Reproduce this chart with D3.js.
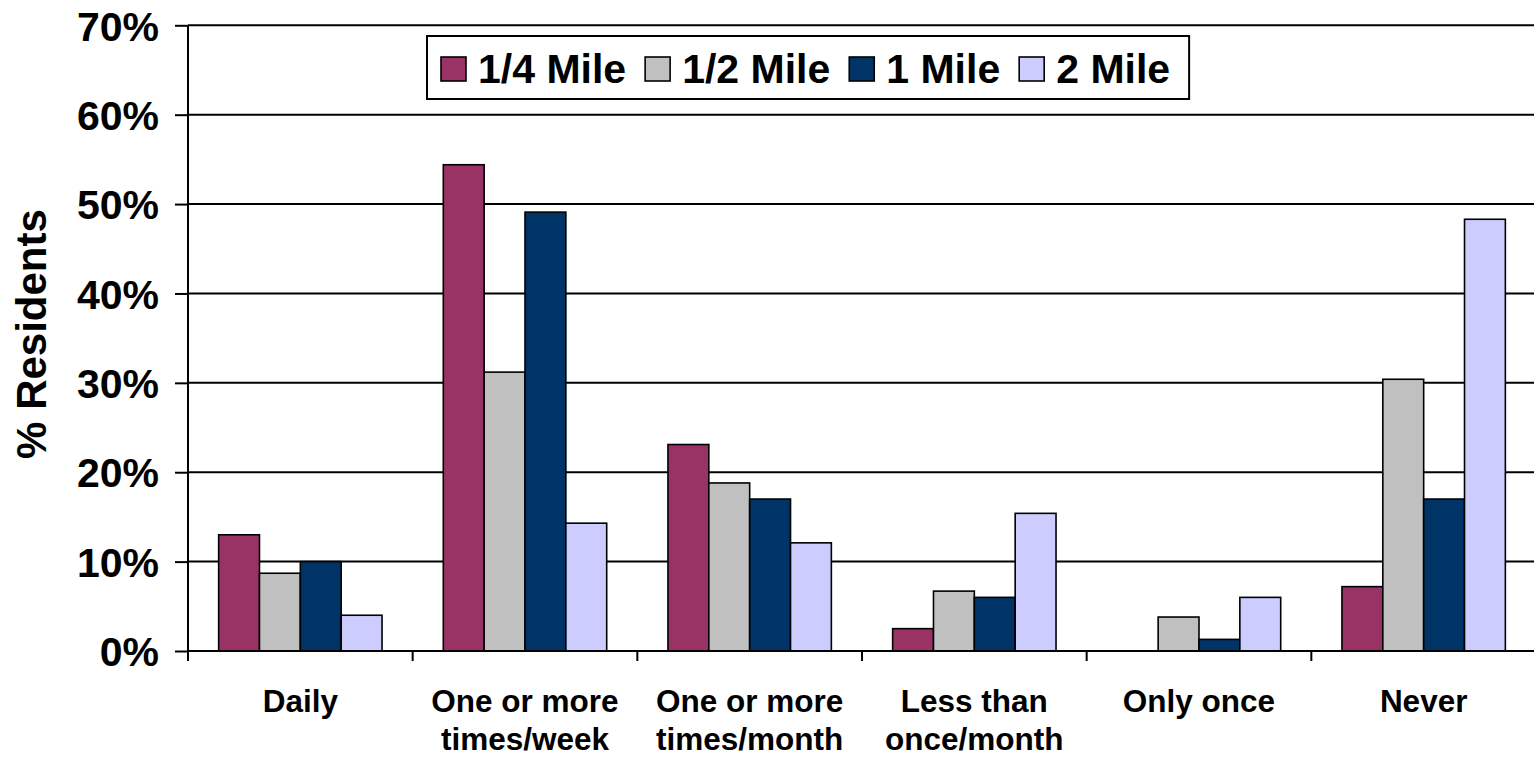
<!DOCTYPE html>
<html>
<head>
<meta charset="utf-8">
<script src="https://cdn.jsdelivr.net/npm/d3@7"></script>
<style>
  html, body { margin: 0; padding: 0; background: #ffffff; }
  svg { display: block; }
  text { font-family: "Liberation Sans", Arial, Helvetica, sans-serif; font-weight: bold; fill: #000; }
</style>
</head>
<body>
<svg id="chart" width="1534" height="757"></svg>
<script>
// Frequency categories (two-line labels split on "|")
const categories = ["Daily", "One or more|times/week", "One or more|times/month", "Less than|once/month", "Only once", "Never"];
const seriesNames = ["1/4 Mile", "1/2 Mile", "1 Mile", "2 Mile"];
const seriesColors = ["#993366", "#C0C0C0", "#003366", "#CCCCFF"];

// Percent of residents per category, one array per distance
const quarterMile = [13.0, 54.4, 23.1, 2.5, 0.0, 7.2];
const halfMile    = [8.7, 31.2, 18.8, 6.7, 3.8, 30.4];
const oneMile     = [10.0, 49.1, 17.0, 6.0, 1.3, 17.0];
const twoMile     = [4.0, 14.3, 12.1, 15.4, 6.0, 48.3];

const yTicks = [0, 10, 20, 30, 40, 50, 60, 70];
const yTitle = "% Residents";

const seriesValues = [quarterMile, halfMile, oneMile, twoMile];

const svg = d3.select("#chart");
const plot = { left: 188, right: 1536, top: 25.3, bottom: 651 };

const x0 = d3.scaleBand().domain(categories).range([plot.left, plot.right]).paddingInner(0).paddingOuter(0);
const x1 = d3.scaleBand().domain(seriesNames).range([0, x0.bandwidth()]).paddingInner(0).paddingOuter(0.75);
const y = d3.scaleLinear().domain([0, 70]).range([plot.bottom, plot.top]);

// Horizontal gridlines with left tick marks
const yAxis = d3.axisLeft(y).tickValues(yTicks).tickFormat(d => d + "%").tickSize(13).tickPadding(16);
const gy = svg.append("g").attr("transform", `translate(${plot.left},0)`).call(yAxis);
gy.select(".domain").remove();
gy.selectAll(".tick line").attr("stroke", "#000").attr("stroke-width", 2);
gy.selectAll(".tick text").style("font-size", "41px").attr("dy", "0.36em").attr("fill", "#000");

svg.append("g").selectAll("line.grid").data(yTicks).join("line")
  .attr("x1", plot.left).attr("x2", plot.right)
  .attr("y1", d => y(d)).attr("y2", d => y(d))
  .attr("stroke", "#000").attr("stroke-width", 2);

// Bars
const groups = svg.append("g").selectAll("g").data(categories).join("g")
  .attr("transform", d => `translate(${x0(d)},0)`);
groups.selectAll("rect")
  .data((c, ci) => seriesNames.map((s, si) => ({ s, si, v: seriesValues[si][ci] })))
  .join("rect")
  .attr("x", d => x1(d.s))
  .attr("width", x1.bandwidth())
  .attr("y", d => y(d.v))
  .attr("height", d => y(0) - y(d.v))
  .attr("fill", d => seriesColors[d.si])
  .attr("stroke", "#000").attr("stroke-width", 1.6);

// Y axis line
svg.append("line").attr("x1", plot.left).attr("x2", plot.left)
  .attr("y1", plot.top).attr("y2", plot.bottom + 10)
  .attr("stroke", "#000").attr("stroke-width", 2);

// X axis with category boundary ticks
const bounds = categories.map(c => x0(c)).concat([plot.right]);
svg.append("line").attr("x1", plot.left).attr("x2", plot.right)
  .attr("y1", plot.bottom).attr("y2", plot.bottom)
  .attr("stroke", "#000").attr("stroke-width", 2);
svg.append("g").selectAll("line").data(bounds).join("line")
  .attr("x1", d => d).attr("x2", d => d)
  .attr("y1", plot.bottom).attr("y2", plot.bottom + 10)
  .attr("stroke", "#000").attr("stroke-width", 2);

// Category labels
const xl = svg.append("g").selectAll("text").data(categories).join("text")
  .attr("x", d => x0(d) + x0.bandwidth() / 2)
  .attr("y", 712)
  .attr("text-anchor", "middle")
  .style("font-size", "31.5px");
xl.selectAll("tspan").data(d => d.split("|")).join("tspan")
  .attr("x", function () { return d3.select(this.parentNode).attr("x"); })
  .attr("dy", (d, i) => i === 0 ? 0 : 38)
  .text(d => d);

// Y axis title
svg.append("text")
  .attr("transform", "translate(46,334) rotate(-90)")
  .attr("text-anchor", "middle")
  .style("font-size", "42px")
  .text(yTitle);

// Legend
const legend = svg.append("g");
const box = legend.append("rect")
  .attr("x", 427).attr("y", 36).attr("height", 63)
  .attr("fill", "#fff").attr("stroke", "#000").attr("stroke-width", 2);
let lx = 441;
seriesNames.forEach((name, i) => {
  legend.append("rect")
    .attr("x", lx).attr("y", 57).attr("width", 25).attr("height", 24)
    .attr("fill", seriesColors[i]).attr("stroke", "#000").attr("stroke-width", 1.6);
  const t = legend.append("text")
    .attr("x", lx + 37).attr("y", 83)
    .style("font-size", "41px")
    .text(name);
  lx += 37 + t.node().getComputedTextLength() + 19;
});
box.attr("width", lx - 427);
</script>
</body>
</html>
